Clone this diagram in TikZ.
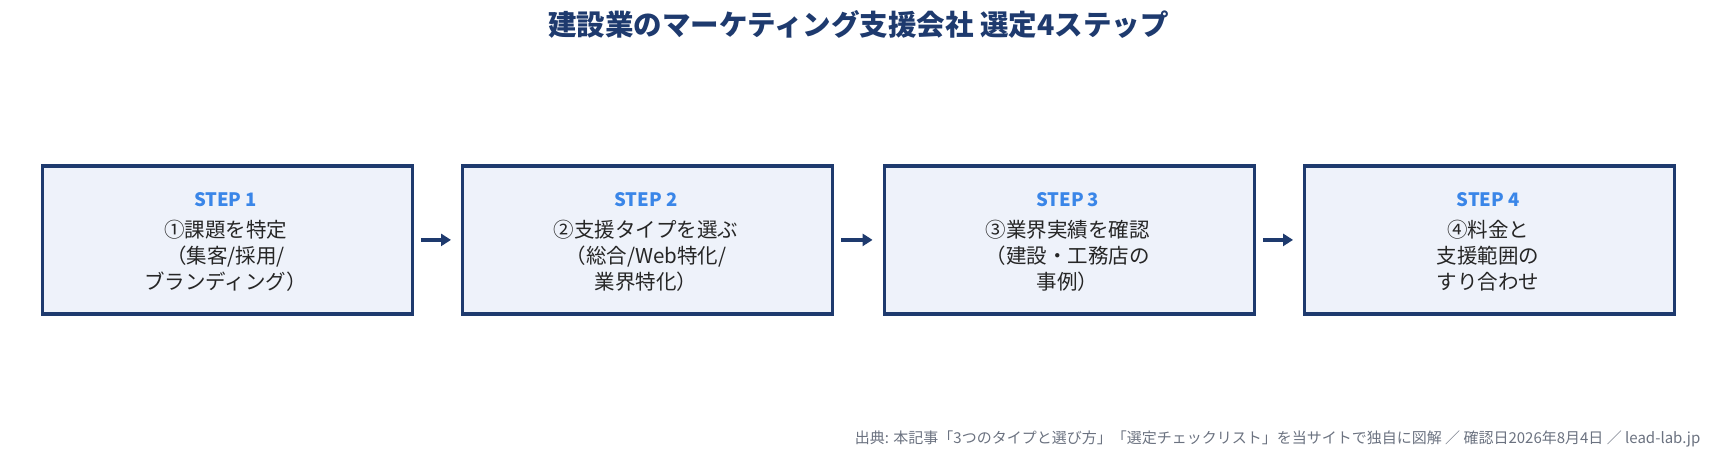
\documentclass[tikz,border=0pt]{standalone}
\usepackage{fontspec}
\setmainfont{Noto Sans CJK JP}
\usetikzlibrary{arrows.meta}
\definecolor{navy}{HTML}{1E3A6E}
\definecolor{boxfill}{HTML}{EEF2FA}
\definecolor{stepblue}{HTML}{3A86E8}
\definecolor{foot}{HTML}{6B7280}
\begin{document}
\begin{tikzpicture}[x=1.095pt,y=-1.095pt,
  box/.style={draw=navy,line width=3.3pt,fill=boxfill,minimum width=370pt,minimum height=148pt,anchor=north west},
  steplbl/.style={text=stepblue,font=\fontsize{18.5}{22}\selectfont\bfseries},
  body/.style={text=black!85,font=\fontsize{20.5}{26}\selectfont,align=center,anchor=north},
  arr/.style={-{Triangle[length=10pt,width=12pt]},line width=3.5pt,draw=navy}]
\useasboundingbox (0,0) rectangle (1568,422);
\node[text=navy,font=\fontsize{28.5}{32}\selectfont\bfseries] (title) at (784,22) {建設業のマーケティング支援会社 選定4ステップ};
\node[box] (b1) at (37,150) {};
\node[box] (b2) at (421,150) {};
\node[box] (b3) at (806,150) {};
\node[box] (b4) at (1190,150) {};
\node[steplbl] (s1) at (206,182) {STEP 1};
\node[steplbl] (s2) at (590,182) {STEP 2};
\node[steplbl] (s3) at (975,182) {STEP 3};
\node[steplbl] (s4) at (1359,182) {STEP 4};
\node[body] (t1) at (206,198) {①課題を特定\\（集客/採用/\\ブランディング）};
\node[body] (t2) at (590,198) {②支援タイプを選ぶ\\（総合/Web特化/\\業界特化）};
\node[body] (t3) at (975,198) {③業界実績を確認\\（建設・工務店の\\事例）};
\node[body] (t4) at (1359,198) {④料金と\\支援範囲の\\すり合わせ};
\draw[arr] ([xshift=7pt]b1.east) -- ([xshift=-10pt]b2.west);
\draw[arr] ([xshift=7pt]b2.east) -- ([xshift=-10pt]b3.west);
\draw[arr] ([xshift=7pt]b3.east) -- ([xshift=-10pt]b4.west);
\node[anchor=east,text=foot,font=\fontsize{15}{18}\selectfont] (src) at (1556,401) {出典: 本記事「3つのタイプと選び方」「選定チェックリスト」を当サイトで独自に図解 ／ 確認日2026年8月4日 ／ lead-lab.jp};
\end{tikzpicture}
\end{document}
